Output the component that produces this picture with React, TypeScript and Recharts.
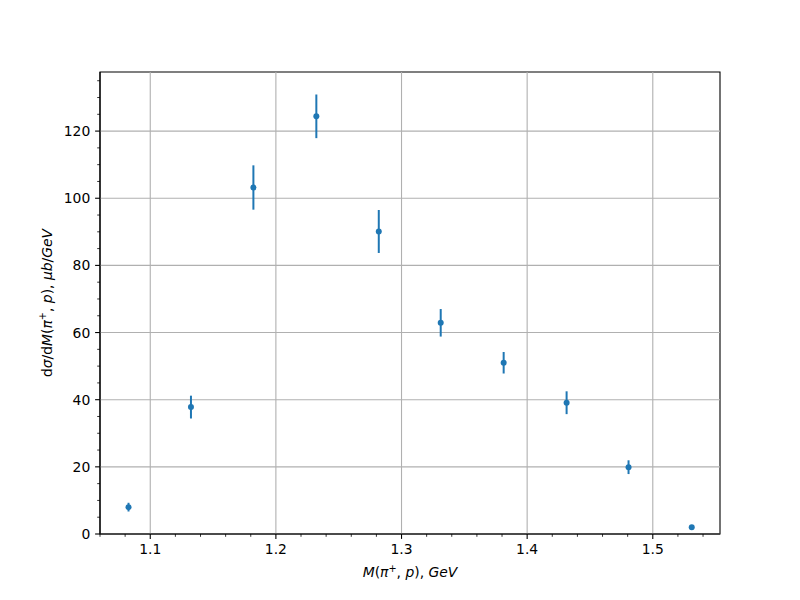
import {
  ScatterChart, Scatter, ErrorBar, XAxis, YAxis, ReferenceLine, ReferenceArea, Label,
} from "recharts";

// bin centres in GeV and measured cross section with its error
const massGeV = [1.0827, 1.1324, 1.1821, 1.2322, 1.2819, 1.3312, 1.3813, 1.4314, 1.4807, 1.531];
const dsigma = [8.0, 37.8, 103.2, 124.4, 90.1, 62.9, 51.0, 39.1, 19.9, 2.0];
const dsigmaErr = [1.3, 3.4, 6.6, 6.5, 6.4, 4.1, 3.2, 3.4, 2.05, 0.3];

const xMajor = [1.1, 1.2, 1.3, 1.4, 1.5];
const xMinor = [1.06, 1.08, 1.12, 1.14, 1.16, 1.18, 1.22, 1.24, 1.26, 1.28, 1.32, 1.34, 1.36, 1.38,
  1.42, 1.44, 1.46, 1.48, 1.52, 1.54];
const yMajor = [0, 20, 40, 60, 80, 100, 120];
const yMinor = [5, 10, 15, 25, 30, 35, 45, 50, 55, 65, 70, 75, 85, 90, 95, 105, 110, 115, 125, 130, 135];

const X_DOMAIN: [number, number] = [1.06, 1.5535];
const Y_DOMAIN: [number, number] = [0, 137.6];

const BLUE = "#1f77b4";
const FONT = "'DejaVu Sans', sans-serif";

const rows = massGeV.map((m, i) => ({ m, v: dsigma[i], err: dsigmaErr[i] }));

const isMajor = (list: number[], v: number) => list.some((t) => Math.abs(t - v) < 1e-6);

function XTick({ x, y, payload }: any) {
  const major = isMajor(xMajor, payload.value);
  return (
    <g>
      <line x1={x} x2={x} y1={y} y2={y + (major ? 4.9 : 2.8)} stroke="#000" strokeWidth={major ? 1.1 : 0.8} />
      {major && (
        <text x={x} y={y + 9.7} textAnchor="middle" dominantBaseline="hanging" fontSize={13.9} fontFamily={FONT} fill="#000">
          {payload.value.toFixed(1)}
        </text>
      )}
    </g>
  );
}

function YTick({ x, y, payload }: any) {
  const major = isMajor(yMajor, payload.value);
  return (
    <g>
      <line x1={x - (major ? 4.9 : 2.8)} x2={x} y1={y} y2={y} stroke="#000" strokeWidth={major ? 1.1 : 0.8} />
      {major && (
        <text x={x - 9.7} y={y} textAnchor="end" dominantBaseline="central" fontSize={13.9} fontFamily={FONT} fill="#000">
          {payload.value}
        </text>
      )}
    </g>
  );
}

function XLabel({ viewBox }: any) {
  const cx = viewBox.x + viewBox.width / 2;
  return (
    <text x={cx} y={viewBox.y + 43} textAnchor="middle" fontSize={13.9} fontFamily={FONT} fill="#000">
      <tspan fontStyle="italic">M</tspan>
      <tspan>(</tspan>
      <tspan fontStyle="italic">π</tspan>
      <tspan fontSize={9.7} dy={-5}>+</tspan>
      <tspan dy={5}>, </tspan>
      <tspan fontStyle="italic">p</tspan>
      <tspan>), </tspan>
      <tspan fontStyle="italic">GeV</tspan>
    </text>
  );
}

function YLabel({ viewBox }: any) {
  const cx = viewBox.x + 47;
  const cy = viewBox.y + viewBox.height / 2;
  return (
    <text x={cx} y={cy} transform={`rotate(-90 ${cx} ${cy})`} textAnchor="middle" dominantBaseline="central"
      fontSize={13.9} fontFamily={FONT} fill="#000">
      <tspan>d</tspan>
      <tspan fontStyle="italic">σ</tspan>
      <tspan>/d</tspan>
      <tspan fontStyle="italic">M</tspan>
      <tspan>(</tspan>
      <tspan fontStyle="italic">π</tspan>
      <tspan fontSize={9.7} dy={-5}>+</tspan>
      <tspan dy={5}>, </tspan>
      <tspan fontStyle="italic">p</tspan>
      <tspan>), </tspan>
      <tspan fontStyle="italic">μb</tspan>
      <tspan>/</tspan>
      <tspan fontStyle="italic">GeV</tspan>
    </text>
  );
}

export default function App() {
  return (
    <div style={{ position: "fixed", left: 0, top: 0, width: 800, height: 600, background: "#fff" }}>
      <ScatterChart width={800} height={600} margin={{ top: 72, right: 80, bottom: 0, left: 0 }}>
        {xMajor.map((v) => (
          <ReferenceLine key={`gx${v}`} x={v} stroke="#b0b0b0" strokeWidth={1.1} />
        ))}
        {yMajor.map((v) => (
          <ReferenceLine key={`gy${v}`} y={v} stroke="#b0b0b0" strokeWidth={1.1} />
        ))}
        <XAxis
          type="number" dataKey="m" domain={X_DOMAIN} allowDataOverflow
          ticks={[...xMajor, ...xMinor].sort((a, b) => a - b)} interval={0}
          tick={<XTick />} tickLine={false} tickSize={0} tickMargin={0}
          axisLine={{ stroke: "#000", strokeWidth: 1.1 }} height={66}
        >
          <Label content={<XLabel />} />
        </XAxis>
        <YAxis
          type="number" dataKey="v" domain={Y_DOMAIN} allowDataOverflow
          ticks={[...yMajor, ...yMinor].sort((a, b) => a - b)} interval={0}
          tick={<YTick />} tickLine={false} tickSize={0} tickMargin={0}
          axisLine={{ stroke: "#000", strokeWidth: 1.1 }} width={100}
        >
          <Label content={<YLabel />} />
        </YAxis>
        <ReferenceArea x1={X_DOMAIN[0]} x2={X_DOMAIN[1]} y1={Y_DOMAIN[0]} y2={Y_DOMAIN[1]}
          fill="none" fillOpacity={0} stroke="#000" strokeWidth={1.1} />
        <Scatter
          data={rows} isAnimationActive={false}
          shape={(p: any) => <circle cx={p.cx} cy={p.cy} r={3} fill={BLUE} />}
        >
          <ErrorBar dataKey="err" direction="y" width={0} stroke={BLUE} strokeWidth={2} isAnimationActive={false} />
        </Scatter>
      </ScatterChart>
    </div>
  );
}
